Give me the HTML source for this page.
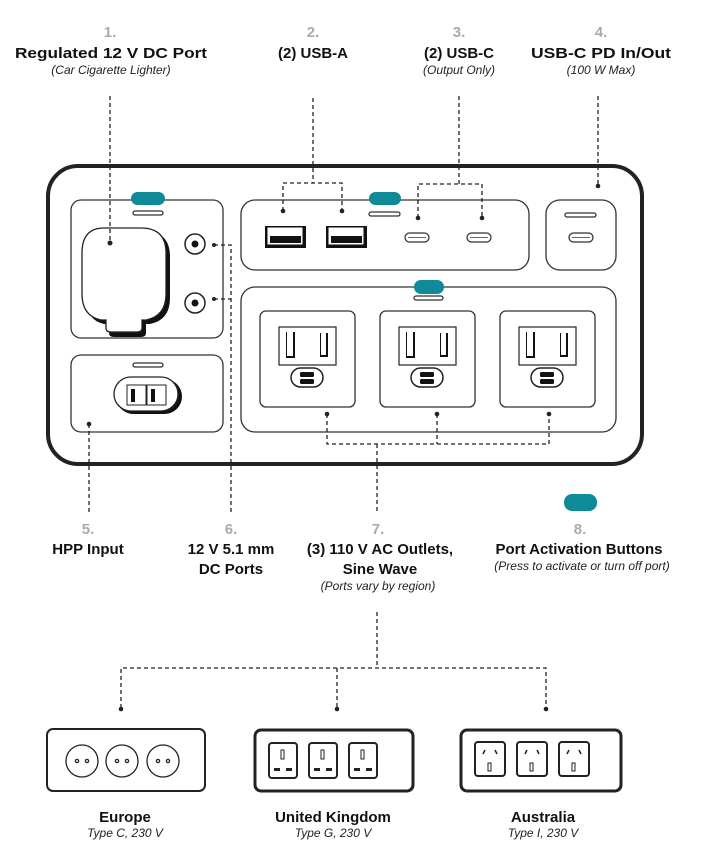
<!DOCTYPE html>
<html><head><meta charset="utf-8"><style>
html,body{margin:0;padding:0;background:#fff;}
svg{display:block;}
.b{font-family:"Liberation Sans",sans-serif;font-weight:bold;font-size:15px;fill:#111;text-anchor:middle;}
.n{font-family:"Liberation Sans",sans-serif;font-weight:bold;font-size:15px;fill:#aaa;text-anchor:middle;}
.i{font-family:"Liberation Sans",sans-serif;font-style:italic;font-size:12px;fill:#222;text-anchor:middle;}
.d{stroke:#222;stroke-width:1.3;stroke-dasharray:4 3;fill:none;}
.p{fill:#fff;stroke:#333;stroke-width:1.3;}
.t{fill:#0e8a98;}
</style></head><body>
<svg width="726" height="862" viewBox="0 0 726 862" xmlns="http://www.w3.org/2000/svg">
<!-- top labels -->
<text class="n" x="110" y="37">1.</text>
<text class="b" x="111" y="58" textLength="192" lengthAdjust="spacingAndGlyphs">Regulated 12 V DC  Port</text>
<text class="i" x="111" y="74">(Car Cigarette Lighter)</text>
<text class="n" x="313" y="37">2.</text>
<text class="b" x="313" y="58">(2) USB-A</text>
<text class="n" x="459" y="37">3.</text>
<text class="b" x="459" y="58">(2) USB-C</text>
<text class="i" x="459" y="74">(Output Only)</text>
<text class="n" x="601" y="37">4.</text>
<text class="b" x="601" y="58" textLength="140" lengthAdjust="spacingAndGlyphs">USB-C PD In/Out</text>
<text class="i" x="601" y="74">(100 W Max)</text>

<!-- device -->
<rect x="48" y="166" width="594" height="298" rx="30" fill="#fff" stroke="#222" stroke-width="4"/>

<!-- left top panel -->
<rect class="p" x="71" y="200" width="152" height="138" rx="10"/>
<rect class="t" x="131" y="192" width="34" height="13" rx="6.5"/>
<rect class="p" x="133" y="211" width="30" height="4" rx="2"/>
<path d="M107 231 H144 Q170 231 170 257 V298 Q170 320 150 324 H146 V333 Q146 337 141 337 H114 Q109 337 109 333 V324 H104 Q86 320 86 298 V257 Q86 231 107 231Z" fill="#111"/>
<path d="M104 228 H141 Q166 228 166 253 V294 Q166 316 146 320 H142 V328 Q142 332 137 332 H111 Q106 332 106 328 V320 H101 Q82 316 82 294 V253 Q82 228 104 228Z" fill="#fff" stroke="#222" stroke-width="1.3"/>
<circle cx="110" cy="243" r="2.5" fill="#222"/>
<circle cx="195" cy="244" r="10" fill="#fff" stroke="#222" stroke-width="1.5"/>
<circle cx="195" cy="244" r="3.5" fill="#111"/>
<circle cx="195" cy="303" r="10" fill="#fff" stroke="#222" stroke-width="1.5"/>
<circle cx="195" cy="303" r="3.5" fill="#111"/>

<!-- HPP panel -->
<rect class="p" x="71" y="355" width="152" height="77" rx="10"/>
<rect class="p" x="133" y="363" width="30" height="4" rx="2"/>
<rect x="116" y="379" width="66" height="35" rx="17.5" fill="#111"/>
<rect x="114" y="377" width="64" height="34" rx="17" fill="#fff" stroke="#222" stroke-width="1.3"/>
<rect x="127" y="385" width="19" height="20" fill="#fff" stroke="#222" stroke-width="1"/>
<rect x="147" y="385" width="19" height="20" fill="#fff" stroke="#222" stroke-width="1"/>
<rect x="131" y="389" width="4" height="13" fill="#111"/>
<rect x="151" y="389" width="4" height="13" fill="#111"/>

<!-- USB panel -->
<rect class="p" x="241" y="200" width="288" height="70" rx="14"/>
<rect class="t" x="369" y="192" width="32" height="13" rx="6.5"/>
<rect class="p" x="369" y="212" width="31" height="4" rx="2"/>
<rect x="265" y="226" width="41" height="22" fill="#111"/>
<rect x="267" y="227" width="36" height="18" fill="#fff" stroke="#111" stroke-width="1"/>
<rect x="270" y="236" width="31" height="7" fill="#111"/>
<rect x="326" y="226" width="41" height="22" fill="#111"/>
<rect x="328" y="227" width="36" height="18" fill="#fff" stroke="#111" stroke-width="1"/>
<rect x="331" y="236" width="31" height="7" fill="#111"/>
<rect class="p" x="405" y="233" width="24" height="9" rx="4.5"/>
<line x1="408" y1="237.5" x2="426" y2="237.5" stroke="#333" stroke-width="0.8"/>
<rect class="p" x="467" y="233" width="24" height="9" rx="4.5"/>
<line x1="470" y1="237.5" x2="488" y2="237.5" stroke="#333" stroke-width="0.8"/>

<!-- PD panel -->
<rect class="p" x="546" y="200" width="70" height="70" rx="14"/>
<rect class="p" x="565" y="213" width="31" height="4" rx="2"/>
<rect class="p" x="569" y="233" width="24" height="9" rx="4.5"/>
<line x1="572" y1="237.5" x2="590" y2="237.5" stroke="#333" stroke-width="0.8"/>

<!-- AC panel -->
<rect class="p" x="241" y="287" width="375" height="145" rx="14"/>
<rect class="t" x="414" y="280" width="30" height="14" rx="7"/>
<rect class="p" x="414" y="296" width="29" height="4" rx="2"/>
<g id="o1">
<rect class="p" x="260" y="311" width="95" height="96" rx="6"/>
<rect class="p" x="279" y="327" width="57" height="38"/>
<rect x="286" y="332" width="9" height="26" fill="#111"/><rect x="287" y="332" width="6" height="24" fill="#fff"/>
<rect x="320" y="333" width="8" height="24" fill="#111"/><rect x="321" y="333" width="5" height="22" fill="#fff"/>
<rect x="291" y="368" width="32" height="19" rx="9.5" fill="#fff" stroke="#222" stroke-width="1.5"/>
<rect x="300" y="372" width="14" height="5" rx="1.5" fill="#111"/>
<rect x="300" y="379" width="14" height="5" rx="1.5" fill="#111"/>
</g>
<use href="#o1" x="120"/>
<use href="#o1" x="240"/>

<!-- connectors (on top) -->
<path class="d" d="M110 96V243"/>
<path class="d" d="M313 98V183M283 211V183H342V211"/>
<path class="d" d="M459 96V184M418 218V184H482V218"/>
<path class="d" d="M598 96V186"/>
<circle cx="283" cy="211" r="2.3" fill="#222"/><circle cx="342" cy="211" r="2.3" fill="#222"/>
<circle cx="418" cy="218" r="2.3" fill="#222"/><circle cx="482" cy="218" r="2.3" fill="#222"/>
<circle cx="598" cy="186" r="2.3" fill="#222"/>
<circle cx="214" cy="245" r="2" fill="#222"/>
<circle cx="214" cy="299" r="2" fill="#222"/>
<path class="d" d="M214 245H231V512M214 299H231"/>
<circle cx="89" cy="424" r="2.3" fill="#222"/>
<path class="d" d="M89 424V512"/>
<circle cx="327" cy="414" r="2.3" fill="#222"/><circle cx="437" cy="414" r="2.3" fill="#222"/><circle cx="549" cy="414" r="2.3" fill="#222"/>
<path class="d" d="M327 414V444H549V414M437 414V444M377 444V512"/>

<!-- bottom labels -->
<text class="n" x="88" y="534">5.</text>
<text class="b" x="88" y="554">HPP Input</text>
<text class="n" x="231" y="534">6.</text>
<text class="b" x="231" y="554">12 V 5.1 mm</text>
<text class="b" x="231" y="574">DC Ports</text>
<text class="n" x="378" y="534">7.</text>
<text class="b" x="380" y="554">(3) 110 V  AC Outlets,</text>
<text class="b" x="380" y="574">Sine Wave</text>
<text class="i" x="378" y="590">(Ports vary by region)</text>
<rect class="t" x="564" y="494" width="33" height="17" rx="8"/>
<text class="n" x="580" y="534">8.</text>
<text class="b" x="579" y="554">Port Activation Buttons</text>
<text class="i" x="582" y="570">(Press to activate or turn off port)</text>

<!-- region connectors -->
<path class="d" d="M377 612V668M121 708V668H546V708M337 668V708"/>
<circle cx="121" cy="709" r="2.3" fill="#222"/><circle cx="337" cy="709" r="2.3" fill="#222"/><circle cx="546" cy="709" r="2.3" fill="#222"/>

<!-- Europe -->
<rect x="47" y="729" width="158" height="62" rx="6" fill="#fff" stroke="#222" stroke-width="2"/>
<g fill="#fff" stroke="#222" stroke-width="1.3">
<circle cx="82" cy="761" r="16"/><circle cx="122" cy="761" r="16"/><circle cx="163" cy="761" r="16"/>
<circle cx="77" cy="761" r="1.6"/><circle cx="87" cy="761" r="1.6"/>
<circle cx="117" cy="761" r="1.6"/><circle cx="127" cy="761" r="1.6"/>
<circle cx="158" cy="761" r="1.6"/><circle cx="168" cy="761" r="1.6"/>
</g>
<!-- UK -->
<rect x="255" y="730" width="158" height="61" rx="6" fill="#fff" stroke="#222" stroke-width="3"/>
<g id="uk">
<rect x="269" y="743" width="28" height="35" rx="3" fill="#fff" stroke="#222" stroke-width="2"/>
<rect x="281" y="750" width="3" height="9" fill="#fff" stroke="#222" stroke-width="1"/>
<rect x="274" y="768" width="6" height="3" fill="#222"/><rect x="286" y="768" width="6" height="3" fill="#222"/>
</g>
<use href="#uk" x="40"/><use href="#uk" x="80"/>
<!-- Australia -->
<rect x="461" y="730" width="160" height="61" rx="6" fill="#fff" stroke="#222" stroke-width="3"/>
<g id="au">
<rect x="475" y="742" width="30" height="34" rx="3" fill="#fff" stroke="#222" stroke-width="2"/>
<path d="M485 750L483 754M495 750L497 754" stroke="#222" stroke-width="1.5"/>
<rect x="488" y="763" width="3" height="8" fill="#fff" stroke="#222" stroke-width="1"/>
</g>
<use href="#au" x="42"/><use href="#au" x="84"/>

<text class="b" x="125" y="822">Europe</text>
<text class="i" x="125" y="837">Type C, 230 V</text>
<text class="b" x="333" y="822">United Kingdom</text>
<text class="i" x="333" y="837">Type G, 230 V</text>
<text class="b" x="543" y="822">Australia</text>
<text class="i" x="543" y="837">Type I, 230 V</text>
</svg>
</body></html>
